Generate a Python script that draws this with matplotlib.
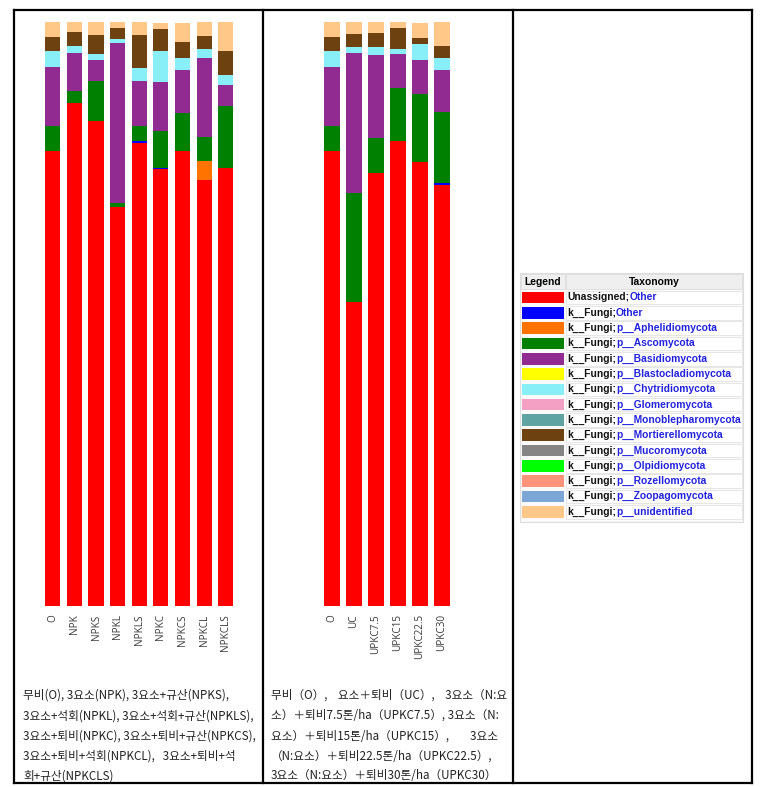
import matplotlib.pyplot as plt
from matplotlib.patches import Rectangle

W, H = 764, 787

# --- data (relative abundance, %) ---
taxa = ['Unassigned;Other', 'k__Fungi;Other', 'k__Fungi;p__Aphelidiomycota',
        'k__Fungi;p__Ascomycota', 'k__Fungi;p__Basidiomycota',
        'k__Fungi;p__Blastocladiomycota', 'k__Fungi;p__Chytridiomycota',
        'k__Fungi;p__Glomeromycota', 'k__Fungi;p__Monoblepharomycota',
        'k__Fungi;p__Mortierellomycota', 'k__Fungi;p__Mucoromycota',
        'k__Fungi;p__Olpidiomycota', 'k__Fungi;p__Rozellomycota',
        'k__Fungi;p__Zoopagomycota', 'k__Fungi;p__unidentified']
colors = ['#FF0000', '#0000FF', '#FF7300', '#008000', '#922B91', '#FFFF00',
          '#88EEF8', '#F4A0C4', '#5FA3A3', '#6E4210', '#858585', '#00FF00',
          '#FF937A', '#7BA6D6', '#FFC888']

left_labels = ['O', 'NPK', 'NPKS', 'NPKL', 'NPKLS', 'NPKC', 'NPKCS', 'NPKCL', 'NPKCLS']
left_unassigned = [78.0, 86.2, 83.1, 68.3, 79.4, 74.8, 78.0, 72.9, 75.1]
left_fungi_other = [0, 0, 0, 0, 0.3, 0.3, 0, 0, 0]
left_aphelidio = [0, 0, 0, 0, 0, 0, 0, 3.4, 0]
left_asco = [4.3, 2.0, 6.9, 0.8, 2.5, 6.3, 6.4, 4.1, 10.5]
left_basidio = [10.0, 6.5, 3.6, 27.4, 7.7, 8.3, 7.4, 13.5, 3.6]
left_chytrid = [2.8, 1.3, 1.0, 0.6, 2.2, 5.4, 2.0, 1.5, 1.7]
left_mortier = [2.4, 2.3, 3.3, 2.0, 5.8, 3.8, 2.8, 2.2, 4.2]
left_unident = [2.5, 1.7, 2.2, 0.9, 2.2, 1.0, 3.3, 2.5, 5.0]

right_labels = ['O', 'UC', 'UPKC7.5', 'UPKC15', 'UPKC22.5', 'UPKC30']
right_unassigned = [78.0, 52.0, 74.2, 79.7, 76.1, 72.1]
right_fungi_other = [0, 0, 0, 0, 0, 0.4]
right_asco = [4.3, 18.7, 5.9, 9.1, 11.6, 12.2]
right_basidio = [10.0, 24.1, 14.3, 5.7, 5.9, 7.1]
right_chytrid = [2.8, 1.0, 1.3, 1.0, 2.6, 2.0]
right_mortier = [2.4, 2.2, 2.4, 3.6, 1.1, 2.2]
right_unident = [2.5, 2.0, 1.9, 0.9, 2.6, 4.0]

left_caption = ['무비(O), 3요소(NPK), 3요소+규산(NPKS),',
                '3요소+석회(NPKL), 3요소+석회+규산(NPKLS),',
                '3요소+퇴비(NPKC), 3요소+퇴비+규산(NPKCS),',
                '3요소+퇴비+석회(NPKCL),   3요소+퇴비+석',
                '회+규산(NPKCLS)']
right_caption = ['무비（O）,    요소＋퇴비（UC）,    3요소（N:요',
                 '소）＋퇴비7.5톤/ha（UPKC7.5）, 3요소（N:',
                 '요소）＋퇴비15톤/ha（UPKC15）,        3요소',
                 '（N:요소）＋퇴비22.5톤/ha（UPKC22.5）,',
                 '3요소（N:요소）＋퇴비30톤/ha（UPKC30）']


def full_stack(n, parts):
    # parts: dict taxon index -> values; missing taxa are zero
    return [parts.get(i, [0] * n) for i in range(len(taxa))]


left_stack = full_stack(len(left_labels), {
    0: left_unassigned, 1: left_fungi_other, 2: left_aphelidio, 3: left_asco,
    4: left_basidio, 6: left_chytrid, 9: left_mortier, 14: left_unident})
right_stack = full_stack(len(right_labels), {
    0: right_unassigned, 1: right_fungi_other, 3: right_asco,
    4: right_basidio, 6: right_chytrid, 9: right_mortier, 14: right_unident})

fig = plt.figure(figsize=(W / 100, H / 100), dpi=100)


def px_axes(x0, y0, x1, y1):
    return fig.add_axes([x0 / W, 1 - y1 / H, (x1 - x0) / W, (y1 - y0) / H])


def stacked(ax, labels, stack, width):
    x = list(range(len(labels)))
    bottom = [0.0] * len(labels)
    for vals, c in zip(stack, colors):
        ax.bar(x, vals, width, bottom=bottom, color=c, linewidth=0)
        bottom = [b + v for b, v in zip(bottom, vals)]
    ax.set_xlim(-0.5, len(labels) - 0.5)
    ax.set_ylim(0, 100)
    ax.set_xticks(x)
    ax.set_xticklabels(labels, rotation=90, fontsize=7.2, color='#3a3a3a',
                       family='Open Sans')
    ax.tick_params(axis='x', length=0, pad=6)
    ax.set_yticks([])
    for s in ax.spines.values():
        s.set_visible(False)


ax1 = px_axes(42, 22.3, 236.5, 606)
stacked(ax1, left_labels, left_stack, 0.7)
ax2 = px_axes(321, 22.3, 453, 606)
stacked(ax2, right_labels, right_stack, 0.73)

# --- overlay for table frame, captions and legend (pixel coordinates) ---
ov = fig.add_axes([0, 0, 1, 1], zorder=-1)
ov.set_xlim(0, W)
ov.set_ylim(H, 0)
ov.axis('off')

lw = 1.6
ov.plot([14, 752], [10, 10], color='black', lw=lw)
ov.plot([14, 752], [783, 783], color='black', lw=lw)
for xv in [14, 263, 513, 752]:
    ov.plot([xv, xv], [10, 783], color='black', lw=lw)

cjk = ['Noto Sans CJK KR', 'DejaVu Sans']
for i, line in enumerate(left_caption):
    ov.text(23, 695.5 + i * 20.1, line, fontsize=8.4, family=cjk, va='center',
            ha='left', color='#222222')
for i, line in enumerate(right_caption):
    ov.text(271, 695.5 + i * 20.1, line, fontsize=8.4, family=cjk, va='center',
            ha='left', color='#222222')

# legend table
lx0, lx1, ly0 = 520, 743, 273
ov.add_patch(Rectangle((lx0, ly0), lx1 - lx0, 249, facecolor='#FAFAFA',
                       edgecolor='#DDDDDD', lw=0.8, zorder=1))
ov.add_patch(Rectangle((lx0 + 1, ly0 + 1), 44, 15, facecolor='#EFEFEF',
                       edgecolor='#DDDDDD', lw=0.6, zorder=2))
ov.add_patch(Rectangle((566, ly0 + 1), lx1 - 567, 15, facecolor='#EFEFEF',
                       edgecolor='#DDDDDD', lw=0.6, zorder=2))
ov.text(543, 282, 'Legend', fontsize=7.4, weight='bold', family='Liberation Sans',
        ha='center', va='center', zorder=3)
ov.text(654, 282, 'Taxonomy', fontsize=7.4, weight='bold', family='Liberation Sans',
        ha='center', va='center', zorder=3)

row_h = 15.3
for i, (name, c) in enumerate(zip(taxa, colors)):
    yc = 297.5 + i * row_h
    ov.add_patch(Rectangle((522, yc - 5.8), 42, 11.6, facecolor=c,
                           edgecolor='none', zorder=3))
    ov.add_patch(Rectangle((566, yc - 6.8), lx1 - 567, 13.6, facecolor='white',
                           edgecolor='#E2E2E2', lw=0.6, zorder=2))
    head, tail = name.split(';')
    t1 = ov.text(567, yc, head + ';', fontsize=7.4, weight='bold',
                 family='Liberation Sans', color='#111111', ha='left',
                 va='center', zorder=4)
    ov.annotate(tail, xy=(1, 0), xycoords=t1, ha='left', va='bottom',
                fontsize=7.4, weight='bold', family='Liberation Sans',
                color='#2222DD', zorder=4)

fig.savefig('out.png', dpi=100, facecolor='white')
